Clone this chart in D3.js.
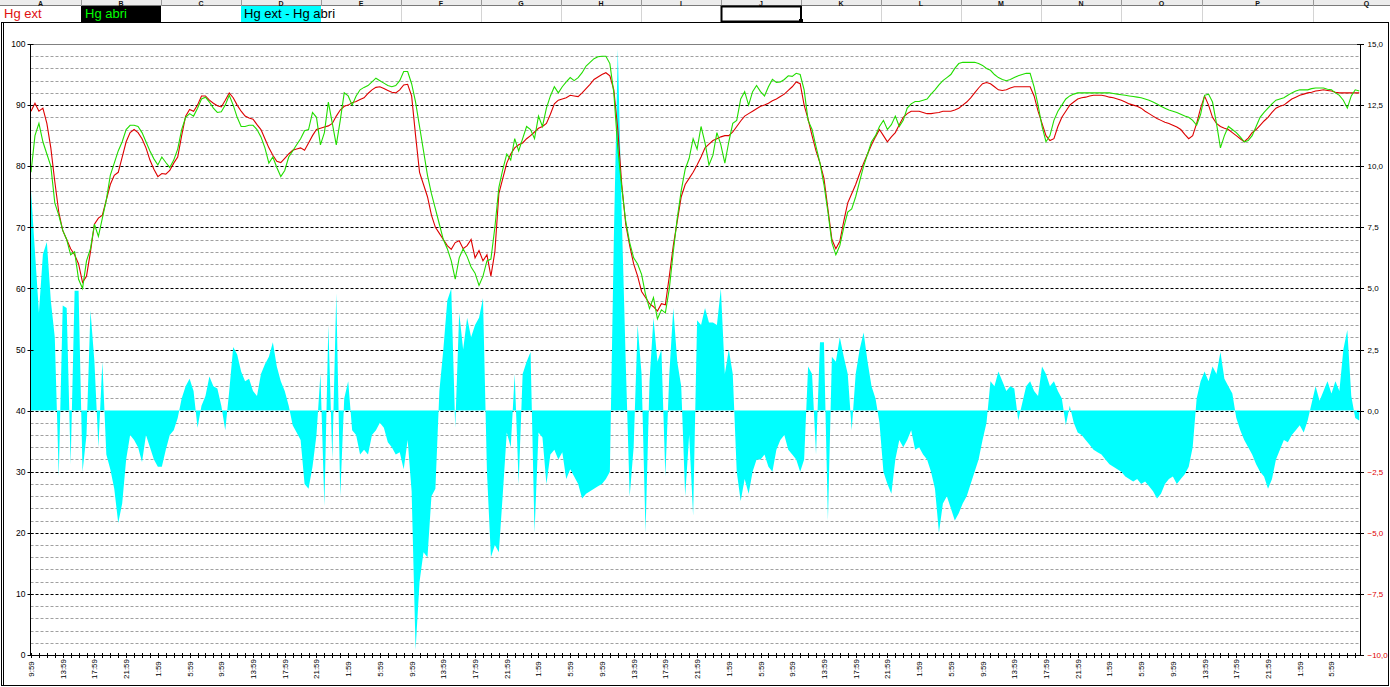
<!DOCTYPE html>
<html><head><meta charset="utf-8">
<script src="https://cdn.jsdelivr.net/npm/d3@7"></script>
<style>body{margin:0;background:#fff;overflow:hidden}svg{display:block}</style>
</head><body>
<svg id="c" width="1390" height="687"></svg>
<script>
// ---------- DATA ----------
// Hg ext (red, left axis), one value per half hour starting at 9:59
const hgExt = [
89,90.3,89,89.5,87,83,77.5,72.5,69.5,68,66.5,65.5,64,61,62,66,70.5,71.5,72,74.5,
77,78.5,79,81.5,84,85.5,86,85.5,84.5,83,81,79.5,78.3,78.8,78.7,79.3,80.5,81.5,85,88.2,
89.3,89,90,91.5,91.5,90.8,90.3,89.9,89.7,90.8,92,91.2,90,89,88.2,87.9,87.7,86.8,86,84.5,
83,81.8,80.8,80.6,81.3,82,82.6,82.8,83,82.6,83.8,85,86,86.2,86.4,86.6,87,88.2,89.2,89.8,
90,90.4,90.6,90.9,91.2,91.9,92.5,92.9,93,92.7,92.4,92.1,92,92.5,93.3,93.4,91.5,85,79,77,
75,72,70,69,68,67,66.4,67.5,67.8,66.5,67,68,65,66.2,64.5,65.5,62,66,75.5,78,
80.5,82,83,83.5,83.8,84.5,85,85.6,86.2,86.5,87,88.5,90.2,90.8,91,91.2,91.6,91.5,91.4,92,
92.7,93.4,94.2,94.6,95,95.3,94.8,92.5,86,77,70.5,67,64,62,59.5,58.5,57.5,57,56.3,57.5,
57.3,62,67,71,75,77,78,79,80.2,81.5,83,83.6,84.2,84.5,84.8,85,85,85.6,86.5,87.4,
88.2,88.6,89,89.4,89.8,90,90.3,90.7,91,91.4,91.8,92.4,93,93.8,93.5,90,87.7,85,82.5,80.5,
78,73,68,66.5,67.7,71,74,75.5,77,78.8,80.5,82,83.5,84.8,86,85,84,84.8,85.5,86.8,
88,88.6,89,89,89,88.8,88.6,88.6,88.7,88.8,89,89,89,89.2,89.5,90,90.5,91.2,92,92.8,
93.5,93.7,93.5,93,92.5,92.4,92.5,92.8,93,93,93,93,93,91.5,89,87,85,84.2,84.5,86.5,
88,89,90,90.5,91,91.2,91.3,91.5,91.6,91.6,91.6,91.5,91.3,91.2,91,90.8,90.5,90.2,90,89.8,
89.5,89,88.6,88.2,87.8,87.5,87.2,87,86.7,86.4,86,85.2,84.5,85,87,89.5,91.5,90,88,87,
86.5,86.2,86,85.5,85,84.5,84,84.6,85.5,86,86.7,87.4,88,88.8,89.5,89.8,90,90.5,91,91.3,
91.6,91.8,92,92.1,92.3,92.4,92.5,92.4,92.3,92.1,92,92,92,92,92,92
];
// Hg abri (green, left axis), one value per half hour
const hgAbri = [
79,85,87,84,82,80,74,72,69.5,68,65.5,66,61.5,60,64.5,66.5,70.5,68.5,71.5,74.5,
78.5,80.5,82.5,84,86,86.7,86.7,86.5,85.5,84,82.5,81.2,80.2,81.5,80.6,79.8,81,82.8,86,88,
88.6,88.2,89.5,91,91.3,90.5,89.5,88.8,88.9,90,91.6,90,88,86.5,86.5,86.7,86.7,86,84.8,83,
80.5,81.5,79.8,78.3,79.3,81.5,82.5,83.5,84.5,85.8,86,88.8,88,83.5,85.5,90.5,87,83.5,87.5,92,
91.5,90,91.5,92.5,92.9,93.2,93.8,94.4,94,93.6,93.2,93,93.2,94,95.5,95.5,93.5,90.5,86.5,82.5,
78.5,75.5,73,70.5,68,66.5,64.5,61.5,65,66.5,65.2,63.5,62.5,60.5,62,64.5,64.8,70,76.5,79.5,
82,81,84.5,82.5,84.5,86.5,86,84.5,88.2,86.5,89.5,91.5,93,92,93,93.8,94.5,94,94.5,95.3,
96.4,97,97.6,97.9,98,98,96.8,92,83,76.5,71,67.5,65,64,62.3,59,56.7,58.5,55,56.5,
56,60,66,71.5,76,79.5,81.3,84.5,82.8,86.5,83.8,80.2,81.8,85.5,83.5,80.5,84,87,87.5,91,
92.2,90,92.2,93.2,92.2,91.5,93,94.2,93.7,93.8,94.2,94.8,94.7,95.2,95,92.5,87.5,86,83.2,80.5,
77,72.5,67.5,65.5,67,70,72.5,73,75,77.5,80,82,84,85,86.5,87.5,86,86.8,88.2,86.5,
87.5,89.5,90.2,90.6,90.6,90.8,91,91.8,92.5,93.3,94,94.5,95,96,96.8,97,97,97,97,96.8,
96.5,96,95.7,95,94.5,94.2,94,94.2,94.5,94.8,95,95.2,95.2,93,90,86.5,84,85,87.5,89,
90,91,91.5,91.8,92,92,92,92,92,92,92,92,92,91.9,91.8,91.7,91.6,91.5,91.4,91.3,
91.2,91,90.8,90.5,90.2,89.8,89.5,89.2,89,88.8,88.5,88.2,88,87.5,86.7,88.5,91.6,91.8,90.5,87,
83,85,86.5,86,85.5,84.8,84,84.2,85,86.5,88,88.8,89.5,90.2,90.8,91,91.2,91.6,92,92.3,
92.5,92.5,92.5,92.7,92.8,92.8,92.8,92.6,92.5,92,91.6,90.8,89.5,91.5,92.5,92.3
];
// Hg ext - Hg abri (cyan area, right axis), one value per half hour
const hgDiff = [
9,6.5,4,6.4,6.9,4.5,3,-2.7,4.3,4.2,-2.2,4.9,4.9,-2.5,-1,4.1,2,-1.5,2,-1.8,
-2.4,-3.2,-4.6,-3.8,-2,-1,-1.2,-1.5,-2.1,-1,-1.5,-2,-2.3,-2.3,-1.6,-1,-0.8,-0.3,0.5,1,
1.3,0.8,-0.7,0.2,0.6,1.4,1.0,0.9,0.2,-0.8,0.8,2.6,2.3,1.6,1.2,1.3,0.8,0.6,1.5,1.9,
2.2,2.8,1.8,1.2,0.8,0.2,-0.6,-0.9,-1.2,-3,-3.2,-2.3,-1,1.5,-3.9,3.5,-2,4.8,-3.5,0.5,
1.2,-0.8,-1.0,-1.8,-1.6,-1.8,-1.0,-0.8,-0.5,-0.7,-1.3,-1.5,-1.8,-1.7,-2.4,-1.2,-3.3,-9.8,-7,-5.8,
-6,-3.5,-3.2,0.8,2.5,4.5,5,-0.7,4,2.5,3.8,3,3.5,3.8,4.6,-2.5,-6,-5.5,-5.8,-3.4,
-0.9,-1.5,1.5,-3,1.5,2,2.4,-5,-0.9,-1.1,-3,-1.8,-1.6,-2,-1.7,-2.8,-2.4,-2.7,-3,-3.6,
-3.4,-3.3,-3.2,-3.1,-3,-2.8,-2.5,7,14.8,8,2,-3.5,-1.5,3.5,1.5,-5,1.2,3.8,2,2.5,
-2.7,1.5,4.2,2,1,-3.5,-1,-4.3,3.7,3.5,4.2,3.6,3.6,3.5,5,1.5,2.5,1.5,-2.5,-3.7,
-2.8,-3.4,-2.5,-2,-2,-1.8,-2.3,-2.5,-1.6,-1.2,-1,-1.6,-1.8,-2,-2.5,-2,1.8,1.5,-1.8,2.8,
2.8,-4.5,2.2,2,3,2.2,1.5,-0.8,1.5,2.5,3.2,2,1,0.5,-0.5,-2.5,-3,-3.4,-2,-1.2,
-1.5,-1.2,-0.8,-1.6,-1.5,-1.8,-2,-2.5,-3.2,-5,-3.8,-3.5,-4,-4.5,-4.2,-3.8,-3.5,-3,-2.5,-2,
-1.2,-0.5,1.2,1,1.6,1.2,0.8,1,0.9,-0.4,0.3,1.0,1.2,0.8,0.6,1.8,1.5,1,1.2,0.8,
0.5,-0.6,0.2,-0.5,-0.9,-1,-1.2,-1.4,-1.6,-1.7,-1.8,-2,-2.2,-2.3,-2.4,-2.5,-2.7,-2.8,-2.9,-2.8,
-3,-2.9,-3.1,-3.3,-3.6,-3.4,-3,-2.8,-2.7,-3,-2.8,-2.6,-2.3,-1.5,0.5,1.2,1.6,1.2,1.8,1.5,
2.4,1.3,1,0.7,-0.3,-0.8,-1.2,-1.5,-1.8,-2.2,-2.5,-2.7,-3.2,-2.8,-2,-1.6,-1.2,-1.3,-1.0,-0.8,
-0.6,-0.9,-0.4,0.3,1,0.4,0.8,1.2,0.7,1.2,0.8,2.5,3.3,0.6,-0.3,-0.4
];
// category labels (every 4 hours)
const xLabels = ["9:59","13:59","17:59","21:59","1:59","5:59","9:59","13:59","17:59","21:59",
"1:59","5:59","9:59","13:59","17:59","21:59","1:59","5:59","9:59","13:59","17:59","21:59",
"1:59","5:59","9:59","13:59","17:59","21:59","1:59","5:59","9:59","13:59","17:59","21:59",
"1:59","5:59","9:59","13:59","17:59","21:59","1:59","5:59"];
const leftTicks = [0,10,20,30,40,50,60,70,80,90,100];
const rightTicks = [-10,-7.5,-5,-2.5,0,2.5,5,7.5,10,12.5,15];
const colLetters = ["A","B","C","D","E","F","G","H","I","J","K","L","M","N","O","P","Q"];
const colEdges = [0,81,161,241,321,401,481,561,641,721,801,881,961,1041,1121,1202,1313,1420];
const legendNames = ["Hg ext","Hg abri","Hg ext - Hg abri"];

// ---------- SCALES ----------
const svg = d3.select("#c");
const L = 30.5, R = 1360, T = 44, B = 655;
const x = d3.scaleLinear().domain([0, 167.6]).range([31, R]);
const yL = d3.scaleLinear().domain([0, 100]).range([B, T]);
const yR = d3.scaleLinear().domain([-10, 15]).range([B, T]);
const font = "Arial, 'Liberation Sans', sans-serif";

// ---------- SPREADSHEET STRIP ----------
svg.append("rect").attr("x",0).attr("y",0).attr("width",1390).attr("height",6).attr("fill","#ececec");
svg.append("line").attr("x1",0).attr("x2",1390).attr("y1",5.5).attr("y2",5.5).attr("stroke","#7a7a7a");
colLetters.forEach((c,i)=>{
  const cx = (colEdges[i]+colEdges[i+1])/2;
  svg.append("text").attr("x",cx).attr("y",5.5).attr("text-anchor","middle")
    .attr("font-family",font).attr("font-size",7).attr("font-weight","bold").attr("fill","#111").text(c);
});
svg.append("rect").attr("x",81).attr("y",6).attr("width",80).attr("height",16).attr("fill","#000");
svg.append("rect").attr("x",241).attr("y",6).attr("width",80).attr("height",16).attr("fill","#00ffff");
colEdges.slice(1,-1).forEach(e=>{
  svg.append("line").attr("x1",e+0.5).attr("x2",e+0.5).attr("y1",0).attr("y2",6).attr("stroke","#9a9a9a");
  if (e!==241 && e!==321 && e!==81 && e!==161)
    svg.append("line").attr("x1",e+0.5).attr("x2",e+0.5).attr("y1",6).attr("y2",22).attr("stroke","#d4d4d4");
});
svg.append("text").attr("x",4).attr("y",18).attr("font-family",font).attr("font-size",13).attr("fill","#e01010").text(legendNames[0]);
svg.append("text").attr("x",85).attr("y",18).attr("font-family",font).attr("font-size",13).attr("fill","#00ff00").text(legendNames[1]);
svg.append("text").attr("x",244).attr("y",18).attr("font-family",font).attr("font-size",13).attr("fill","#000").text(legendNames[2]);
// selected cell J2
svg.append("rect").attr("x",721.5).attr("y",6.5).attr("width",79.5).attr("height",15).attr("fill","none").attr("stroke","#000").attr("stroke-width",2);
svg.append("rect").attr("x",799).attr("y",19).attr("width",4).attr("height",5).attr("fill","#000");

// chart area border
svg.append("rect").attr("x",1.5).attr("y",22.5).attr("width",1387).attr("height",663).attr("fill","#fff").attr("stroke","#000");
svg.append("line").attr("x1",3.5).attr("x2",3.5).attr("y1",22).attr("y2",686).attr("stroke","#000");

// ---------- GRID ----------
const minor = d3.range(2,100,2).filter(v=>v%10!==0);
svg.append("g").selectAll("line").data(minor).join("line")
  .attr("x1",L).attr("x2",R).attr("y1",d=>Math.round(yL(d))+0.5).attr("y2",d=>Math.round(yL(d))+0.5)
  .attr("stroke","#a0a0a0").attr("stroke-dasharray","3,2");
svg.append("g").selectAll("line").data(leftTicks.filter(v=>v>0&&v<100)).join("line")
  .attr("x1",L).attr("x2",R).attr("y1",d=>Math.round(yL(d))+0.5).attr("y2",d=>Math.round(yL(d))+0.5)
  .attr("stroke","#000").attr("stroke-dasharray","3,2");
svg.append("line").attr("x1",L).attr("x2",R).attr("y1",T+0.5).attr("y2",T+0.5).attr("stroke","#808080");

// ---------- SERIES ----------
const diffArea = d3.area().x((d,i)=>x(i*0.5)).y0(yR(0)).y1(d=>yR(d));
svg.append("path").datum(hgDiff).attr("d",diffArea).attr("fill","#00ffff");

const lineL = d3.line().x((d,i)=>x(i*0.5)).y(d=>yL(d));
svg.append("path").datum(hgExt).attr("d",lineL).attr("fill","none").attr("stroke","#dd0000").attr("stroke-width",1.1);
svg.append("path").datum(hgAbri).attr("d",lineL).attr("fill","none").attr("stroke","#22dd00").attr("stroke-width",1.1);

// ---------- AXES ----------
const leftAxis = d3.axisLeft(yL).tickValues(leftTicks).tickSize(0).tickPadding(5).tickFormat(d3.format("d"));
const gL = svg.append("g").attr("transform",`translate(${L},0)`).call(leftAxis);
gL.select(".domain").remove();
gL.selectAll("text").attr("font-family",font).attr("font-size",8.5).attr("fill","#000");
svg.append("line").attr("x1",L).attr("x2",L).attr("y1",T).attr("y2",B).attr("stroke","#000");
svg.append("g").selectAll("line").data(leftTicks).join("line")
  .attr("x1",L-3).attr("x2",L+3).attr("y1",d=>Math.round(yL(d))+0.5).attr("y2",d=>Math.round(yL(d))+0.5).attr("stroke","#000");

const fmtR = d=>d3.format(".1f")(d).replace(".",",");
const rightAxis = d3.axisRight(yR).tickValues(rightTicks).tickSize(0).tickPadding(7).tickFormat(fmtR);
const gR = svg.append("g").attr("transform",`translate(${R+0.5},0)`).call(rightAxis);
gR.select(".domain").remove();
gR.selectAll("text").attr("font-family",font).attr("font-size",8).attr("fill",d=>d<0?"#e00000":"#000");
svg.append("line").attr("x1",R+0.5).attr("x2",R+0.5).attr("y1",T).attr("y2",B).attr("stroke","#000");
svg.append("g").selectAll("line").data(rightTicks).join("line")
  .attr("x1",R-3).attr("x2",R+4).attr("y1",d=>Math.round(yR(d))+0.5).attr("y2",d=>Math.round(yR(d))+0.5).attr("stroke","#000");

// bottom axis
svg.append("line").attr("x1",L).attr("x2",R).attr("y1",B+0.5).attr("y2",B+0.5).attr("stroke","#000");
const hourTicks = d3.range(0,168);
svg.append("g").selectAll("line").data(hourTicks).join("line")
  .attr("x1",d=>Math.round(x(d))+0.5).attr("x2",d=>Math.round(x(d))+0.5).attr("y1",B-2).attr("y2",B+3).attr("stroke","#000");
svg.append("g").selectAll("text").data(xLabels).join("text")
  .attr("transform",(d,i)=>`translate(${Math.round(x(i*4))+3},669) rotate(-90)`)
  .attr("text-anchor","middle").attr("font-family",font).attr("font-size",8).attr("fill","#000").text(d=>d);
</script>
</body></html>
